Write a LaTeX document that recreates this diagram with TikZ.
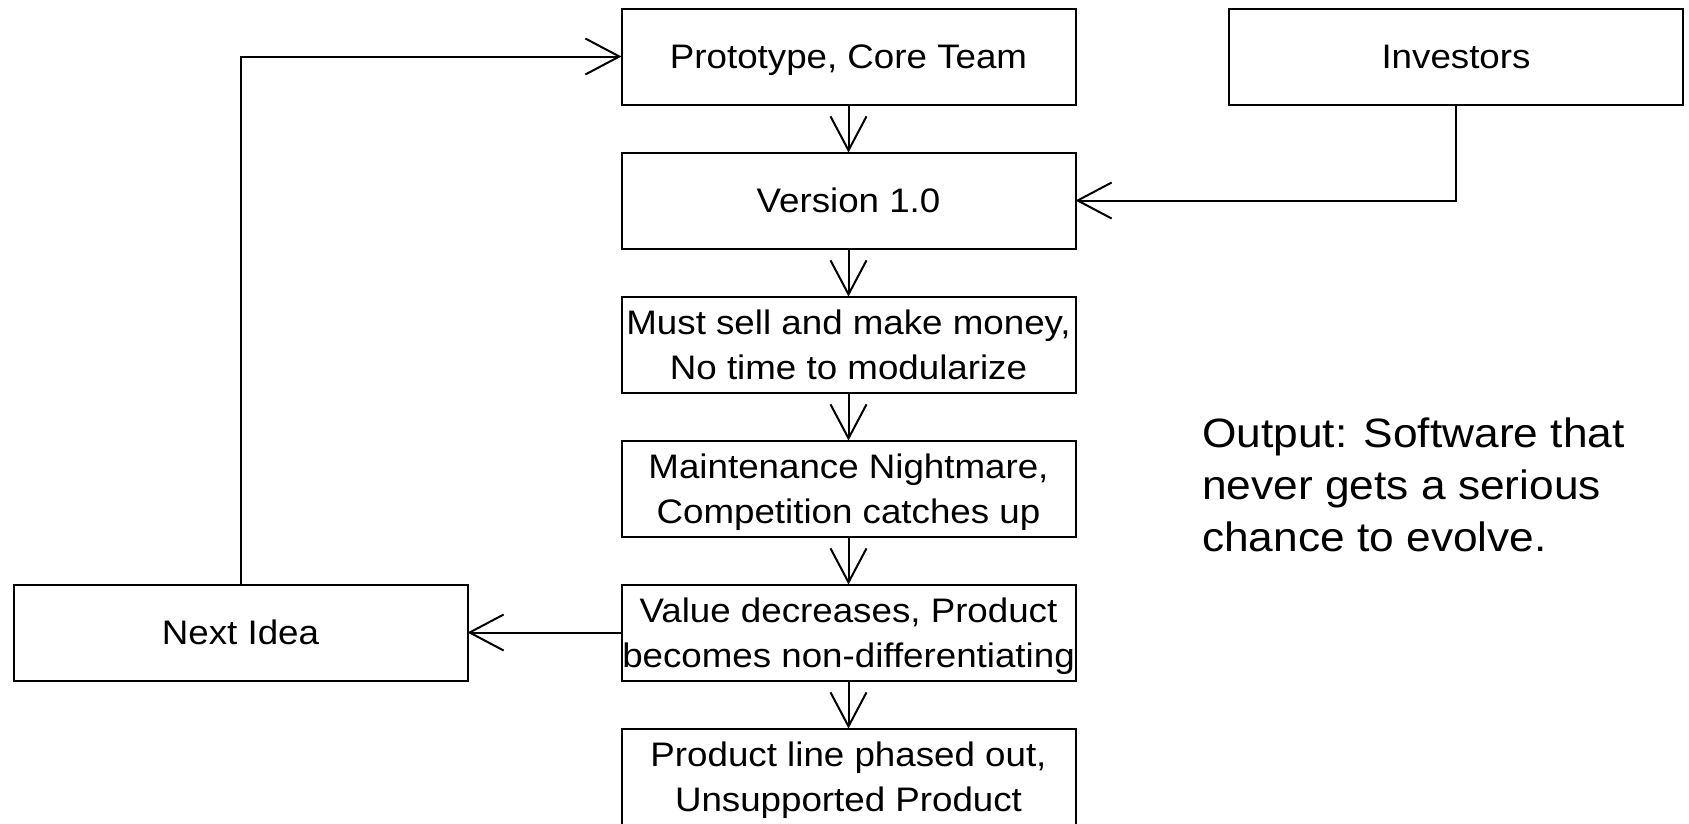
\documentclass[tikz,border=0pt]{standalone}
\usepackage{fontspec}
\setmainfont{Liberation Sans}[FakeStretch=1.08]
\usetikzlibrary{arrows.meta}
\newcommand{\ZeroDp}[1]{\raisebox{0pt}[\height][0pt]{#1}}
\begin{document}
\begin{tikzpicture}[x=1pt,y=-1pt,
  box/.style={draw,line width=2pt,minimum width=454pt,minimum height=96pt,inner sep=0pt,outer sep=0pt,align=center,font=\fontsize{34}{45}\selectfont},
  conn/.style={line width=2pt,-{Straight Barb[length=34pt,width=36pt]}}]
\useasboundingbox (0,0) rectangle (1689,823);
\clip (0,0) rectangle (1689,823);
\node[box] (proto) at (848.5,56.5) {\ZeroDp{Prototype, Core Team}};
\node[box] (v1) at (848.5,200.5) {\ZeroDp{Version 1.0}};
\node[box] (sell) at (848.5,344.5) {Must sell and make money,\\\ZeroDp{No time to modularize}};
\node[box] (maint) at (848.5,488.5) {Maintenance Nightmare,\\\ZeroDp{Competition catches up}};
\node[box] (val) at (848.5,632.5) {Value decreases, Product\\\ZeroDp{becomes non-differentiating}};
\node[box] (phase) at (848.5,776.5) {Product line phased out,\\\ZeroDp{Unsupported Product}};
\node[box] (inv) at (1456,56.5) {\ZeroDp{Investors}};
\node[box] (next) at (240.5,632.5) {\ZeroDp{Next Idea}};
\draw[conn] (proto) -- (v1);
\draw[conn] (v1) -- (sell);
\draw[conn] (sell) -- (maint);
\draw[conn] (maint) -- (val);
\draw[conn] (val) -- (phase);
\draw[conn] (inv.south) |- (v1.east);
\draw[conn] (val.west) -- (next.east);
\draw[conn] (next.north) |- (proto.west);
\node[anchor=north west,align=left,inner sep=0pt,font=\fontsize{41}{52}\selectfont] (out) at (1202,418) {Output: Software that\\never gets a serious\\chance to evolve.};
\end{tikzpicture}
\end{document}
